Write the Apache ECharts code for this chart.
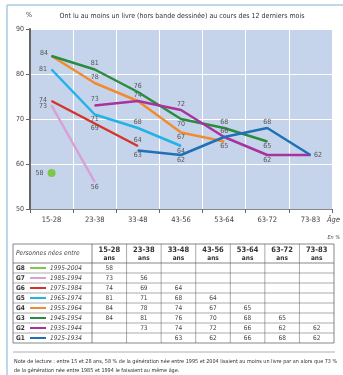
<!DOCTYPE html>
<html>
<head>
<meta charset="utf-8">
<script src="https://cdn.jsdelivr.net/npm/echarts@6/dist/echarts.min.js"></script>
<style>
  html, body { margin: 0; padding: 0; background: #fff; }
  #chart { width: 343px; height: 375px; }
</style>
</head>
<body>
<div id="chart"></div>
<script>
// Age brackets (x axis and table columns)
const CATEGORIES = ['15-28', '23-38', '33-48', '43-56', '53-64', '63-72', '73-83'];
const Y_TICKS = [50, 60, 70, 80, 90];

// Generations
const GEN_NAMES = ['G8', 'G7', 'G6', 'G5', 'G4', 'G3', 'G2', 'G1'];
const GEN_YEARS = ['1995-2004', '1985-1994', '1975-1984', '1965-1974', '1955-1964', '1945-1954', '1935-1944', '1925-1934'];
const GEN_COLORS = ['#7cc84a', '#d9a0d6', '#d5342b', '#22b2e6', '#f28b30', '#2b8b3f', '#a9329c', '#2070b8'];

// Share (%) who read at least one book in the last 12 months, by age bracket
const G8 = [58, null, null, null, null, null, null];
const G7 = [73, 56, null, null, null, null, null];
const G6 = [74, 69, 64, null, null, null, null];
const G5 = [81, 71, 68, 64, null, null, null];
const G4 = [84, 78, 74, 67, 65, null, null];
const G3 = [84, 81, 76, 70, 68, 65, null];
const G2 = [null, 73, 74, 72, 66, 62, 62];
const G1 = [null, null, 63, 62, 66, 68, 62];
const GEN_VALUES = [G8, G7, G6, G5, G4, G3, G2, G1];

// Where each point's value label sits (null = label hidden, shared with another line)
const LABEL_PLACE = {
  G8: ['left'],
  G7: ['left1', 'bottom'],
  G6: ['left0', 'bottom', 'top'],
  G5: ['left', 'bottom', 'top', 'bottom'],
  G4: [null, 'top', 'top', 'bottom', 'bottom'],
  G3: ['leftUp', 'top', 'top', 'bottom', 'top', 'bottom'],
  G2: [null, 'top', null, 'top', 'top', 'bottom', 'right'],
  G1: [null, null, 'bottom', 'bottom', null, 'top', null]
};

const FONT = '"Liberation Sans Narrow", "DejaVu Sans Condensed", "Roboto", sans-serif';
const TXT = '#444';

function labelFor(place) {
  const base = { show: true, fontSize: 7, color: '#555', fontFamily: FONT, formatter: '{c}' };
  if (!place) return { show: false };
  if (place === 'top') return Object.assign(base, { position: 'top', distance: 2 });
  if (place === 'bottom') return Object.assign(base, { position: 'bottom', distance: 1 });
  if (place === 'right') return Object.assign(base, { position: 'right', distance: 3 });
  if (place === 'left') return Object.assign(base, { position: 'left', distance: 4 });
  if (place === 'left0') return Object.assign(base, { position: 'left', distance: 4, offset: [0, -1] });
  if (place === 'left1') return Object.assign(base, { position: 'left', distance: 4, offset: [0, 1] });
  if (place === 'leftUp') return Object.assign(base, { position: 'left', distance: 3, offset: [0, -3] });
  return { show: false };
}

const series = GEN_NAMES.map((name, gi) => {
  const vals = GEN_VALUES[gi];
  const places = LABEL_PLACE[name];
  const single = vals.filter(v => v != null).length === 1;
  return {
    name: name,
    type: 'line',
    data: vals.map((v, i) => v == null ? null : { value: v, label: labelFor(places[i]) }),
    lineStyle: { color: GEN_COLORS[gi], width: 2.5 },
    itemStyle: { color: GEN_COLORS[gi] },
    symbol: 'circle',
    // tiny symbols keep the value labels attached; they hide under the 2.5px line
    symbolSize: single ? 8 : 1,
    showSymbol: true,
    showAllSymbol: true,
    connectNulls: false,
    z: 3 + gi,
    emphasis: { disabled: true },
    animation: false
  };
});

// ---- Table drawn below the chart ----
const T = { left: 13, right: 334, top: 244, head: 19, rowH: 10, labelW: 79 };
const colW = (T.right - T.left - T.labelW) / CATEGORIES.length;
const tableBottom = T.top + T.head + T.rowH * GEN_NAMES.length;
const lineCol = '#555';
const graphics = [];

function hline(y, x1, x2, color, w) {
  graphics.push({ type: 'line', silent: true, shape: { x1: x1, y1: y, x2: x2, y2: y }, style: { stroke: color, lineWidth: w } });
}
function vline(x, y1, y2, color, w) {
  graphics.push({ type: 'line', silent: true, shape: { x1: x, y1: y1, x2: x, y2: y2 }, style: { stroke: color, lineWidth: w } });
}
function text(str, x, y, opts) {
  graphics.push({
    type: 'text', silent: true,
    style: Object.assign({
      text: str, x: x, y: y, fill: TXT, fontFamily: FONT, fontSize: 6.5,
      textAlign: 'left', textVerticalAlign: 'middle'
    }, opts || {})
  });
}

// frame around the figure
vline(7, 5, 375, '#a9cbe4', 1.5);
hline(5, 7, 343, '#a9cbe4', 1.5);

// titles and axis captions
text('%', 29, 15, { fontSize: 7, textAlign: 'center' });
text('Ont lu au moins un livre (hors bande dessinée) au cours des 12 derniers mois', 182, 16, { fontSize: 7, textAlign: 'center', fill: '#333' });
text('Âge', 327, 220, { fontSize: 7.5, fontStyle: 'italic', textAlign: 'left' });
text('En %', 340, 238, { fontSize: 5.5, fontStyle: 'italic', textAlign: 'right' });

// table grid
hline(T.top, T.left, T.right, lineCol, 0.7);
hline(T.top + T.head, T.left, T.right, lineCol, 0.7);
for (let r = 1; r <= GEN_NAMES.length; r++) {
  hline(T.top + T.head + r * T.rowH, T.left, T.right, lineCol, r === GEN_NAMES.length ? 0.7 : 0.5);
}
vline(T.left, T.top, tableBottom, lineCol, 0.7);
vline(T.left + T.labelW, T.top, tableBottom, lineCol, 0.7);
for (let c = 1; c <= CATEGORIES.length; c++) {
  vline(T.left + T.labelW + c * colW, T.top, tableBottom, lineCol, c === CATEGORIES.length ? 0.7 : 0.5);
}

// table header
text('Personnes nées entre', T.left + 3, T.top + T.head / 2, { fontStyle: 'italic', fontSize: 6.5 });
CATEGORIES.forEach((cat, c) => {
  const cx = T.left + T.labelW + (c + 0.5) * colW;
  text(cat, cx, T.top + 6, { fontWeight: 'bold', fontSize: 7.5, textAlign: 'center', fill: '#333' });
  text('ans', cx, T.top + 14, { fontWeight: 'bold', fontSize: 6.5, textAlign: 'center', fill: '#333' });
});

// table rows
GEN_NAMES.forEach((name, r) => {
  const cy = T.top + T.head + (r + 0.5) * T.rowH;
  text(name, T.left + 3, cy, { fontWeight: 'bold', fontSize: 6.5, fill: '#333' });
  graphics.push({ type: 'line', silent: true, shape: { x1: T.left + 17, y1: cy, x2: T.left + 33, y2: cy }, style: { stroke: GEN_COLORS[r], lineWidth: 2 } });
  text(GEN_YEARS[r], T.left + 37, cy, { fontStyle: 'italic', fontSize: 6.5 });
  GEN_VALUES[r].forEach((v, c) => {
    if (v == null) return;
    const cx = T.left + T.labelW + (c + 0.5) * colW;
    text(String(v), cx, cy, { fontSize: 6.5, textAlign: 'center' });
  });
});

// reading note
hline(352, 13, 335, '#999', 0.8);
text('Note de lecture : entre 15 et 28 ans, 58 % de la génération née entre 1995 et 2004 lisaient au moins un livre par an alors que 73 %', 14, 362, { fontSize: 5.45, fill: '#333' });
text('de la génération née entre 1985 et 1994 le faisaient au même âge.', 14, 371, { fontSize: 5.45, fill: '#333' });

const chart = echarts.init(document.getElementById('chart'), null, { renderer: 'canvas' });
chart.setOption({
  animation: false,
  textStyle: { fontFamily: FONT },
  grid: {
    left: 30, right: 11, top: 29, height: 180,
    show: true, backgroundColor: '#c6d4eb', borderWidth: 0
  },
  xAxis: {
    type: 'category',
    data: CATEGORIES,
    boundaryGap: true,
    axisLine: { show: true, lineStyle: { color: '#888', width: 1 } },
    axisTick: { show: true, length: 4, lineStyle: { color: '#666' } },
    axisLabel: { fontSize: 7.5, color: TXT, margin: 7, fontFamily: FONT },
    splitLine: { show: true, lineStyle: { color: '#ffffff', width: 1 } }
  },
  yAxis: {
    type: 'value',
    min: Y_TICKS[0],
    max: Y_TICKS[Y_TICKS.length - 1],
    interval: 10,
    axisLine: { show: true, lineStyle: { color: '#666', width: 2 } },
    axisTick: { show: true, length: 4, lineStyle: { color: '#666' } },
    axisLabel: { fontSize: 7, color: TXT, margin: 6, fontFamily: FONT },
    splitLine: { show: true, lineStyle: { color: '#ffffff', width: 1 } }
  },
  series: series,
  graphic: graphics
});
</script>
</body>
</html>
